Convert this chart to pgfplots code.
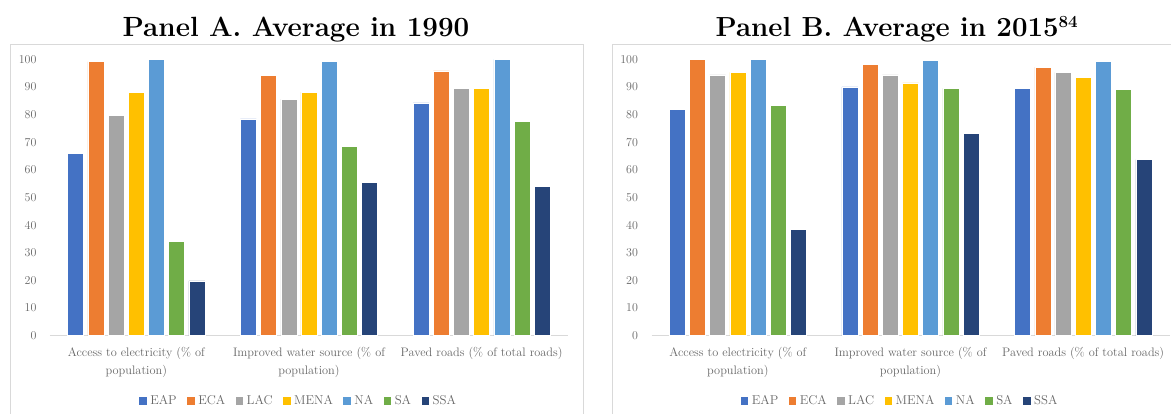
\documentclass[border=0pt]{standalone}
\usepackage{pgfplots}
\usepackage{pgfplotstable}
\pgfplotsset{compat=1.18}

\definecolor{cEAP}{HTML}{4472C4}
\definecolor{cECA}{HTML}{ED7D31}
\definecolor{cLAC}{HTML}{A5A5A5}
\definecolor{cMENA}{HTML}{FFC000}
\definecolor{cNA}{HTML}{5B9BD5}
\definecolor{cSA}{HTML}{70AD47}
\definecolor{cSSA}{HTML}{264478}
\definecolor{txtgray}{HTML}{666666}
\definecolor{framegray}{HTML}{D9D9D9}

% Panel A: average in 1990
\pgfplotstableread{
x EAP ECA LAC MENA NA SA SSA
0 65.9 99.2 79.7 88.1 100 34.1 19.8
1 78.4 94.3 85.6 88.1 99.2 68.4 55.4
2 84.2 95.8 89.5 89.5 100 77.6 54.0
}\dataA

% Panel B: average in 2015
\pgfplotstableread{
x EAP ECA LAC MENA NA SA SSA
0 81.9 100 94.4 95.3 100 83.3 38.6
1 90.0 98.2 94.4 91.5 99.6 89.5 73.2
2 89.5 97.2 95.3 93.4 99.2 89.1 63.7
}\dataB

\pgfplotsset{panel/.style={
  scale only axis, width=518pt, height=276.4pt,
  ybar=4.2pt, bar width=16pt,
  ymin=0, ymax=100, xmin=-0.5, xmax=2.5,
  ytick={0,10,...,100}, xtick={0,1,2},
  xticklabels={{Access to electricity (\% of\\population)},{Improved water source (\% of\\population)},{Paved roads (\% of total roads)}},
  axis x line=bottom, axis y line=left,
  x axis line style={draw=framegray, line width=0.8pt, -},
  y axis line style={draw=none},
  major tick length=0pt,
  tick label style={text=txtgray},
  yticklabel style={font=\fontsize{11.5}{13}\selectfont, xshift=-10pt},
  xticklabel style={font=\fontsize{12.3}{18}\selectfont, align=center, yshift=-8pt},
  legend columns=7,
  legend style={draw=none, fill=none, at={(0.48,-0.236)}, anchor=center,
    font=\fontsize{12.8}{14}\selectfont, text=txtgray,
    /tikz/every even column/.append style={column sep=8.5pt},
    nodes={inner xsep=2pt}},
  legend image code/.code={\fill[##1, draw=none] (0pt,-3.7pt) rectangle (7.4pt,3.7pt); \path[draw=none, fill=none] (0pt,0pt) -- (9pt,0pt);},
  every axis plot/.append style={draw=white, line width=0.5pt},
}}

\begin{document}
\begin{tikzpicture}
\useasboundingbox (0,0) rectangle (1171pt,414pt);
\clip (0,0) rectangle (1171pt,414pt);

\draw[framegray, line width=0.8pt] (10.5pt,-10pt) rectangle (583.5pt,370pt);
\draw[framegray, line width=0.8pt] (612pt,-10pt) rectangle (1185pt,370pt);

\node[anchor=base, font=\fontsize{27.8}{30}\selectfont\bfseries] at (296pt,377pt) {Panel A. Average in 1990};
\node[anchor=base, font=\fontsize{27.6}{30}\selectfont\bfseries] at (897pt,377pt) {Panel B. Average in 2015\textsuperscript{\fontsize{17}{18}\selectfont 84}};

\begin{axis}[panel, at={(50pt,78.3pt)}, anchor=south west]
  \addplot[fill=cEAP] table[x=x,y=EAP]{\dataA};
  \addplot[fill=cECA] table[x=x,y=ECA]{\dataA};
  \addplot[fill=cLAC] table[x=x,y=LAC]{\dataA};
  \addplot[fill=cMENA] table[x=x,y=MENA]{\dataA};
  \addplot[fill=cNA] table[x=x,y=NA]{\dataA};
  \addplot[fill=cSA] table[x=x,y=SA]{\dataA};
  \addplot[fill=cSSA] table[x=x,y=SSA]{\dataA};
  \legend{EAP,ECA,LAC,MENA,NA,SA,SSA}
\end{axis}

\begin{axis}[panel, at={(651.5pt,78.3pt)}, anchor=south west]
  \addplot[fill=cEAP] table[x=x,y=EAP]{\dataB};
  \addplot[fill=cECA] table[x=x,y=ECA]{\dataB};
  \addplot[fill=cLAC] table[x=x,y=LAC]{\dataB};
  \addplot[fill=cMENA] table[x=x,y=MENA]{\dataB};
  \addplot[fill=cNA] table[x=x,y=NA]{\dataB};
  \addplot[fill=cSA] table[x=x,y=SA]{\dataB};
  \addplot[fill=cSSA] table[x=x,y=SSA]{\dataB};
  \legend{EAP,ECA,LAC,MENA,NA,SA,SSA}
\end{axis}
\end{tikzpicture}
\end{document}
